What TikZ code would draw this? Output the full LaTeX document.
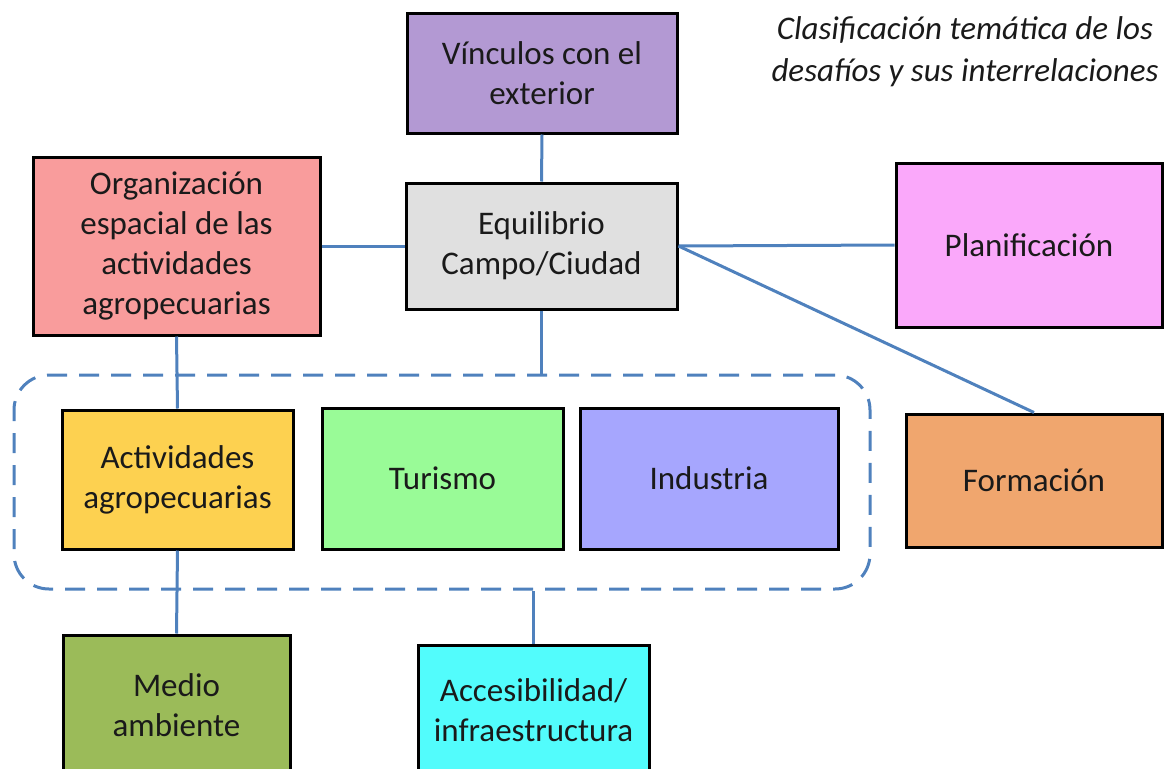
\documentclass[tikz,border=0pt]{standalone}
\usepackage{fontspec}
\setmainfont{Carlito}
\definecolor{conncol}{HTML}{4F81BD}
\definecolor{cvinc}{HTML}{B399D3}
\definecolor{cequi}{HTML}{E0E0E0}
\definecolor{corg}{HTML}{F99C9C}
\definecolor{cplan}{HTML}{FAA8FA}
\definecolor{cform}{HTML}{F0A66E}
\definecolor{cact}{HTML}{FDD150}
\definecolor{ctur}{HTML}{99FB97}
\definecolor{cind}{HTML}{A6A6FE}
\definecolor{cmed}{HTML}{9BBB59}
\definecolor{cacc}{HTML}{52FCFC}
\definecolor{txt}{HTML}{1A1A1A}
\tikzset{
  box/.style={draw=black, line width=3pt, align=center, text=txt,
    font=\fontsize{33}{40}\selectfont, inner sep=0pt},
  conn/.style={draw=conncol, line width=3pt},
  groupbox/.style={draw=conncol, line width=3pt, dash pattern=on 20pt off 12pt,
    rounded corners=35pt, inner sep=0pt},
}
\begin{document}
\begin{tikzpicture}[x=1pt,y=-1pt]
\useasboundingbox (0,0) rectangle (1169,768);
% group (dashed)
\node[groupbox, minimum width=856pt, minimum height=214pt] (group) at (442,482) {};
% boxes
\node[box, fill=cvinc, minimum width=270pt, minimum height=119pt] (vinc) at (542,73.5) {Vínculos con el\\exterior};
\node[box, fill=cequi, minimum width=271pt, minimum height=126pt] (equi) at (541.5,246) {Equilibrio\\Campo/Ciudad};
\node[box, fill=corg, minimum width=287pt, minimum height=178pt] (org) at (176.5,246) {Organización\\espacial de las\\actividades\\agropecuarias};
\node[box, fill=cplan, minimum width=266pt, minimum height=164pt] (plan) at (1029,245) {Planificación};
\node[box, fill=cform, minimum width=256pt, minimum height=133pt] (form) at (1034,480.5) {Formación};
\node[box, fill=cact, minimum width=231pt, minimum height=139pt] (act) at (177.5,479.5) {Actividades\\agropecuarias};
\node[box, fill=ctur, minimum width=241pt, minimum height=141pt] (tur) at (442.5,478.5) {Turismo};
\node[box, fill=cind, minimum width=258pt, minimum height=141pt] (ind) at (709,478.5) {Industria};
\node[box, fill=cmed, minimum width=227pt, minimum height=140pt] (med) at (176.5,705) {Medio\\ambiente};
\node[box, fill=cacc, minimum width=231pt, minimum height=130pt] (acc) at (533.5,710) {Accesibilidad/\\infraestructura};
% title
\node[align=center, text=txt, font=\fontsize{33}{42}\selectfont\itshape] (title) at (965,52) {Clasificación temática de los\\desafíos y sus interrelaciones};
% connectors
\draw[conn] (vinc.south) -- (equi.north);
\draw[conn] (org.east) -- (equi.west);
\draw[conn] (equi.east) -- (plan.west);
\draw[conn] (equi.east) -- (form.north);
\draw[conn] (equi.south) -- (equi.south |- group.north);
\draw[conn] (org.south) -- (act.north);
\draw[conn] (act.south) -- (med.north);
\draw[conn] (acc.north) -- (acc.north |- group.south);
\end{tikzpicture}
\end{document}
